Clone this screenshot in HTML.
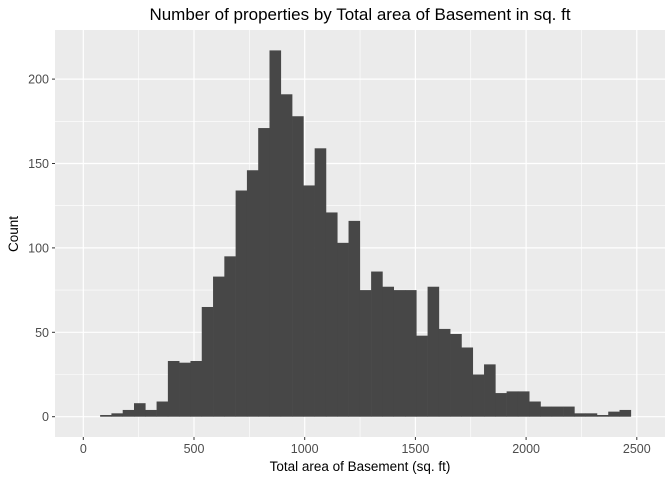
<!DOCTYPE html>
<html><head><meta charset="utf-8"><style>
body{margin:0;background:#fff;font-family:"Liberation Sans",Arial,sans-serif}
</style></head><body>
<svg id="chart" width="672" height="480" xmlns="http://www.w3.org/2000/svg" font-family="Liberation Sans, Arial, sans-serif">
<rect width="672" height="480" fill="#fff"/>
<text x="360" y="20" font-size="17" text-anchor="middle" fill="#000">Number of properties by Total area of Basement in sq. ft</text>
<g id="panel"></g>
<text x="360" y="471" font-size="13.5" text-anchor="middle" fill="#000">Total area of Basement (sq. ft)</text>
<text transform="translate(18,234) rotate(-90)" font-size="13.5" text-anchor="middle" fill="#000">Count</text>
</svg>
<script>
const binStart = 76;
const binWidth = 51;
const counts = [1,2,4,8,4,9,33,32,33,65,83,95,134,146,171,217,191,178,137,159,121,103,116,75,86,77,75,75,48,77,52,49,41,25,31,14,15,15,9,6,6,6,2,2,1,3,4];
const xTicks = [0,500,1000,1500,2000,2500];
const xMinor = [250,750,1250,1750,2250];
const yTicks = [0,50,100,150,200];
const yMinor = [25,75,125,175];

const L=55,R=665,T=30,B=437;
const xs=v=>83.3+0.2214*v;
const ys=c=>416.7-1.688*c;
const NS="http://www.w3.org/2000/svg";
const g=document.getElementById('panel');
function mk(t,a,p){const e=document.createElementNS(NS,t);for(const k in a)e.setAttribute(k,a[k]);(p||g).appendChild(e);return e;}
const bg=mk('rect',{x:L,y:T,width:R-L,height:B-T,fill:'#ebebeb'});


yMinor.forEach(v=>{const l=mk('line',{x1:L,x2:R,y1:ys(v),y2:ys(v),stroke:'#fff','stroke-width':0.6});

});
xMinor.forEach(v=>{const l=mk('line',{x1:xs(v),x2:xs(v),y1:T,y2:B,stroke:'#fff','stroke-width':0.6});

});
yTicks.forEach(v=>{const l=mk('line',{x1:L,x2:R,y1:ys(v),y2:ys(v),stroke:'#fff','stroke-width':1.2});


const tk=mk('line',{x1:L-3,x2:L,y1:ys(v),y2:ys(v),stroke:'#333','stroke-width':1});


const t=mk('text',{x:L-6,y:ys(v)+4.5,'font-size':12.5,'text-anchor':'end',fill:'#4d4d4d'});t.textContent=v;

});
xTicks.forEach(v=>{const l=mk('line',{x1:xs(v),x2:xs(v),y1:T,y2:B,stroke:'#fff','stroke-width':1.2});


const tk=mk('line',{x1:xs(v),x2:xs(v),y1:B,y2:B+3,stroke:'#333','stroke-width':1});


const t=mk('text',{x:xs(v),y:B+16,'font-size':12.5,'text-anchor':'middle',fill:'#4d4d4d'});t.textContent=v;

});
counts.forEach((c,i)=>{const x0=xs(binStart+i*binWidth),x1=xs(binStart+(i+1)*binWidth);
const r=mk('rect',{x:x0,y:ys(c),width:x1-x0+0.3,height:ys(0)-ys(c),fill:'#474747'});

});
</script>
</body></html>
